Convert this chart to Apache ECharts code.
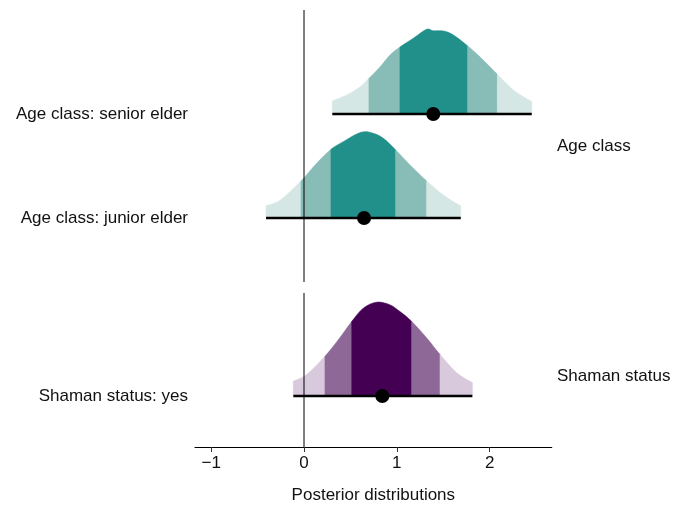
<!DOCTYPE html>
<html><head><meta charset="utf-8">
<script src="https://cdn.jsdelivr.net/npm/echarts@6/dist/echarts.min.js"></script>
<style>html,body{margin:0;padding:0;background:#fff}#c{width:684px;height:505px}</style>
</head><body><div id="c"></div>
<script>
// ---------- data ----------
const xTicks = [-1, 0, 1, 2];
const xTitle = 'Posterior distributions';
const topRowLabels = ['Age class: junior elder', 'Age class: senior elder']; // rows 1, 2
const bottomRowLabels = ['Shaman status: yes'];                             // row 1
const panelLabels = ['Age class', 'Shaman status'];

// senior elder (top panel, row 2)
const seniorX = [0.305, 0.46, 0.603, 0.70, 0.819, 0.927, 1.034, 1.178, 1.322, 1.393, 1.501, 1.609, 1.764, 1.897, 2.083, 2.255, 2.454];
const seniorD = [0.125, 0.183, 0.26, 0.343, 0.452, 0.567, 0.644, 0.728, 0.814, 0.80, 0.798, 0.76, 0.654, 0.548, 0.382, 0.231, 0.118];
const seniorBands = [0.305, 0.70, 1.034, 1.764, 2.083, 2.454];
const seniorEst = 1.393;

// junior elder (top panel, row 1)
const juniorX = [-0.409, -0.259, -0.032, 0.137, 0.291, 0.423, 0.568, 0.657, 0.747, 0.855, 0.988, 1.142, 1.322, 1.501, 1.689];
const juniorD = [0.118, 0.17, 0.356, 0.526, 0.661, 0.734, 0.808, 0.830, 0.814, 0.766, 0.654, 0.51, 0.356, 0.221, 0.115];
const juniorBands = [-0.409, -0.032, 0.291, 0.988, 1.322, 1.689];
const juniorEst = 0.647;

// shaman status: yes (bottom panel, row 1)
const shamanX = [-0.115, 0.029, 0.226, 0.37, 0.514, 0.639, 0.783, 0.927, 1.034, 1.161, 1.322, 1.466, 1.645, 1.814];
const shamanD = [0.144, 0.209, 0.385, 0.545, 0.721, 0.85, 0.908, 0.882, 0.817, 0.721, 0.562, 0.401, 0.225, 0.129];
const shamanBands = [-0.115, 0.226, 0.514, 1.161, 1.466, 1.814];
const shamanEst = 0.844;

// ---------- styling ----------
const FONT = '"Liberation Sans", Arial, Helvetica, sans-serif';
const TXT = '#111';
const teal = ['#d5e7e4', '#87bcb7', '#218f8a', '#87bcb7', '#d5e7e4'];
const purple = ['#d9c9dc', '#8e6998', '#440154', '#8e6998', '#d9c9dc'];

const XMIN = -1.1746, XMAX = 2.669;
const TOP_Y = [0.3846, 3.0];
const BOT_Y = [0.507, 1.997];

const ridges = [
  { x: seniorX, d: seniorD, bands: seniorBands, est: seniorEst, row: 2, grid: 0, colors: teal },
  { x: juniorX, d: juniorD, bands: juniorBands, est: juniorEst, row: 1, grid: 0, colors: teal },
  { x: shamanX, d: shamanD, bands: shamanBands, est: shamanEst, row: 1, grid: 1, colors: purple }
];

function f(v) { return v.toFixed(2); }
function makeRenderer(r) {
  return function (params, api) {
    const pts = r.x.map((xv, i) => api.coord([xv, r.row + r.d[i]]));
    const children = [];
    for (let b = 0; b < r.bands.length - 1; b++) {
      const lo = r.bands[b], hi = r.bands[b + 1];
      const idx = [];
      r.x.forEach((xv, i) => { if (xv >= lo - 1e-9 && xv <= hi + 1e-9) idx.push(i); });
      const b0 = api.coord([lo, r.row]), b1 = api.coord([hi, r.row]);
      let d = 'M' + f(b0[0]) + ' ' + f(b0[1]) + ' L' + f(pts[idx[0]][0]) + ' ' + f(pts[idx[0]][1]);
      for (let k = 0; k < idx.length - 1; k++) {
        const i = idx[k], j = idx[k + 1];
        const p0 = pts[Math.max(i - 1, 0)], p1 = pts[i], p2 = pts[j], p3 = pts[Math.min(j + 1, pts.length - 1)];
        const c1 = [p1[0] + (p2[0] - p0[0]) / 6, p1[1] + (p2[1] - p0[1]) / 6];
        const c2 = [p2[0] - (p3[0] - p1[0]) / 6, p2[1] - (p3[1] - p1[1]) / 6];
        d += ' C' + f(c1[0]) + ' ' + f(c1[1]) + ' ' + f(c2[0]) + ' ' + f(c2[1]) + ' ' + f(p2[0]) + ' ' + f(p2[1]);
      }
      d += ' L' + f(b1[0]) + ' ' + f(b1[1]) + ' Z';
      children.push({ type: 'path', shape: { pathData: d },
        style: { fill: r.colors[b], stroke: r.colors[b], lineWidth: 0.6 } });
    }
    return { type: 'group', children };
  };
}

const series = [];
ridges.forEach(r => {
  series.push({ type: 'custom', xAxisIndex: r.grid, yAxisIndex: r.grid, z: 1, silent: true,
    renderItem: makeRenderer(r), data: [[r.est, r.row]], clip: false });
});
// zero reference lines
[TOP_Y, BOT_Y].forEach((yr, g) => {
  series.push({ type: 'line', xAxisIndex: g, yAxisIndex: g, z: 3, silent: true, symbol: 'none',
    data: [[0, yr[0]], [0, yr[1]]], lineStyle: { color: '#000', width: 1 } });
});
ridges.forEach(r => {
  series.push({ type: 'line', xAxisIndex: r.grid, yAxisIndex: r.grid, z: 4, silent: true, symbol: 'none',
    data: [[r.bands[0], r.row], [r.bands[r.bands.length - 1], r.row]], lineStyle: { color: '#000', width: 2.6 } });
  series.push({ type: 'scatter', xAxisIndex: r.grid, yAxisIndex: r.grid, z: 5, silent: true,
    symbolSize: 14, itemStyle: { color: '#000', opacity: 1 }, data: [[r.est, r.row]] });
});

function yAxisFor(g, yr, labels) {
  return {
    type: 'value', gridIndex: g, min: yr[0], max: yr[1],
    axisLine: { show: false }, axisTick: { show: false }, splitLine: { show: false },
    axisLabel: { customValues: labels.map((_, i) => i + 1), margin: 7, padding: [4, 0, 0, 0],
      formatter: v => labels[Math.round(v) - 1] || '',
      fontFamily: FONT, fontSize: 17, color: TXT }
  };
}

const chart = echarts.init(document.getElementById('c'), null, { renderer: 'canvas' });
chart.setOption({
  animation: false,
  backgroundColor: '#fff',
  grid: [
    { left: 195, right: 132.3, top: 10, height: 272 },
    { left: 195, right: 132.3, top: 293, height: 155 }
  ],
  xAxis: [
    { type: 'value', gridIndex: 0, min: XMIN, max: XMAX, show: false },
    { type: 'value', gridIndex: 1, min: XMIN, max: XMAX,
      axisLine: { show: true, onZero: false, lineStyle: { color: '#000', width: 1.2 } },
      axisTick: { show: true, length: 5, customValues: xTicks, lineStyle: { color: '#333', width: 1 } },
      splitLine: { show: false },
      axisLabel: { customValues: xTicks, margin: 8, fontFamily: FONT, fontSize: 17, color: TXT,
        formatter: v => String(v).replace('-', '\u2212') },
      name: xTitle, nameLocation: 'middle', nameGap: 40,
      nameTextStyle: { fontFamily: FONT, fontSize: 17, color: TXT } }
  ],
  yAxis: [yAxisFor(0, TOP_Y, topRowLabels), yAxisFor(1, BOT_Y, bottomRowLabels)],
  graphic: [
    { type: 'text', x: 557, y: 146, style: { text: panelLabels[0], font: '17px ' + FONT, fill: TXT, verticalAlign: 'middle', align: 'left' } },
    { type: 'text', x: 557, y: 376, style: { text: panelLabels[1], font: '17px ' + FONT, fill: TXT, verticalAlign: 'middle', align: 'left' } }
  ],
  series
});
</script>
</body></html>
